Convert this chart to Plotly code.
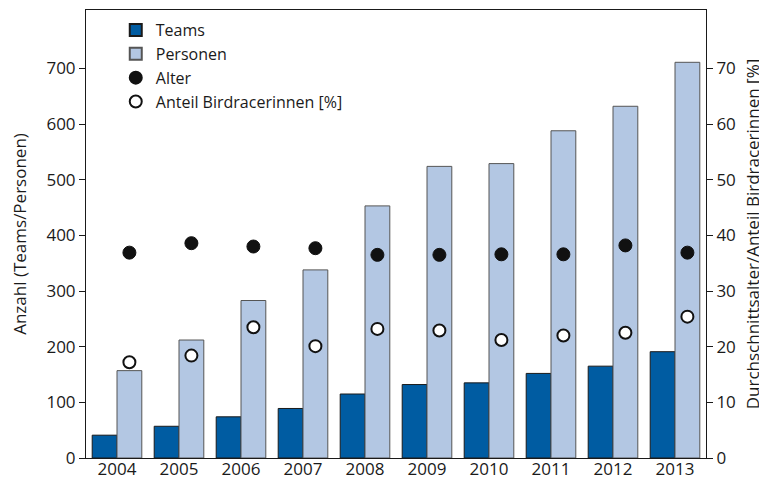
import plotly.graph_objects as go

years = ["2004", "2005", "2006", "2007", "2008", "2009", "2010", "2011", "2012", "2013"]
teams = [41, 57, 74, 89, 115, 132, 135, 152, 165, 191]
personen = [157, 212, 283, 338, 453, 524, 529, 588, 632, 711]
alter = [36.9, 38.6, 38.0, 37.7, 36.5, 36.5, 36.6, 36.6, 38.2, 36.9]
anteil = [17.2, 18.4, 23.5, 20.1, 23.2, 22.9, 21.2, 22.0, 22.5, 25.4]
left_ticks = [0, 100, 200, 300, 400, 500, 600, 700]
right_ticks = [0, 10, 20, 30, 40, 50, 60, 70]

idx = list(range(len(years)))
W = 0.40
FONT = "Open Sans"
FS = 17
INK = "#1a1a1a"

fig = go.Figure()
fig.add_trace(go.Bar(x=idx, y=teams, name="Teams", width=W, offset=-W,
                     marker=dict(color="#005ca2", line=dict(color=INK, width=1))))
fig.add_trace(go.Bar(x=idx, y=personen, name="Personen", width=W, offset=0,
                     marker=dict(color="#b3c7e3", line=dict(color="#555555", width=1))))
fig.add_trace(go.Scatter(x=[i + W / 2 for i in idx], y=alter, name="Alter", mode="markers",
                         yaxis="y2",
                         marker=dict(symbol="circle", size=13, color="#111111",
                                     line=dict(color="#111111", width=1))))
fig.add_trace(go.Scatter(x=[i + W / 2 for i in idx], y=anteil, name="Anteil Birdracerinnen [%]",
                         mode="markers", yaxis="y2",
                         marker=dict(symbol="circle", size=12, color="white",
                                     line=dict(color="#111111", width=2))))

fig.update_layout(
    width=767, height=482,
    margin=dict(l=78, r=69, t=2, b=32, autoexpand=False),
    paper_bgcolor="white", plot_bgcolor="white",
    font=dict(family=FONT, size=FS, color=INK),
    barmode="overlay",
    showlegend=True,
    legend=dict(x=0.048, y=0.993, xanchor="left", yanchor="top",
                bgcolor="rgba(0,0,0,0)", font=dict(size=FS - 1), tracegroupgap=0,
                itemsizing="constant"),
    xaxis=dict(range=[-0.5, 9.5], tickmode="array", tickvals=idx, ticktext=years,
               showgrid=False, zeroline=False, showline=True, linecolor=INK,
               linewidth=1, mirror=True, ticks="", tickfont=dict(size=FS),
               ticklabelstandoff=-4, automargin=False),
    yaxis=dict(range=[0, 805], tickmode="array", tickvals=left_ticks,
               showgrid=False, zeroline=False, showline=True, linecolor=INK,
               linewidth=1, ticks="outside", ticklen=6, tickcolor=INK,
               title=dict(text="Anzahl (Teams/Personen)", standoff=20, font=dict(size=FS)),
               tickfont=dict(size=FS), automargin=False),
    yaxis2=dict(range=[0, 80.5], overlaying="y", side="right", tickmode="array",
                tickvals=right_ticks, showgrid=False, zeroline=False, showline=True,
                linecolor=INK, linewidth=1, ticks="outside", ticklen=6,
                tickcolor=INK,
                title=dict(text="Durchschnittsalter/Anteil Birdracerinnen [%]", standoff=12,
                           font=dict(size=FS)),
                tickfont=dict(size=FS), automargin=False),
)

fig.write_html("out.html")
